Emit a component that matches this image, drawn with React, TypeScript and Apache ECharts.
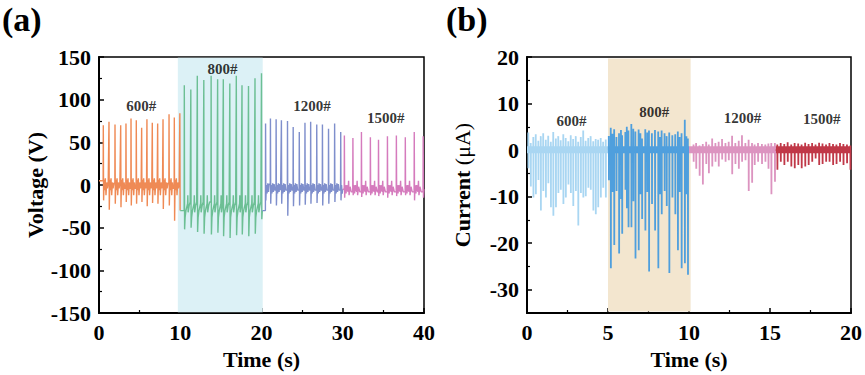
import React, { useEffect, useRef } from "react";
import * as echarts from "echarts";

// ---------- Panel (a): Voltage (V) vs Time (s) ----------
const A_T600 = [0.53, 1.23, 1.97, 2.67, 3.32, 3.94, 4.59, 5.25, 5.9, 6.56, 7.22, 7.88, 8.62, 9.27, 9.95];
const A_P600 = [70, 74, 71, 70, 72, 78, 76, 67, 77, 73, 72, 77, 83, 79, 84];
const A_Q600 = [-18, -29, -22, -26, -20, -24, -22, -20, -25, -21, -22, -28, -24, -42, -30];

const A_T800 = [10.5, 11.3, 12.1, 12.9, 13.8, 14.6, 15.3, 16.1, 16.9, 17.6, 18.4, 19.2, 20.0];
const A_P800 = [117, 112, 128, 123, 128, 124, 124, 119, 128, 117, 116, 125, 131];
const A_Q800 = [-52, -50, -55, -57, -58, -56, -60, -62, -59, -58, -60, -57, -40];

const A_T1200 = [20.5, 21.1, 21.8, 22.45, 23.2, 23.9, 24.65, 25.35, 26.05, 26.8, 27.5, 28.25, 29.0, 29.75];
const A_P1200 = [72, 78, 77, 76, 75, 68, 62, 73, 74, 71, 71, 66, 72, 62];
const A_Q1200 = [-18, -22, -24, -22, -36, -25, -24, -23, -22, -21, -24, -22, -20, -18];

const A_T1500 = [30.2, 31.25, 32.3, 33.4, 34.4, 35.5, 36.6, 37.7, 38.8, 39.9];
const A_P1500 = [58, 55, 62, 56, 53, 57, 58, 56, 62, 57];
const A_Q1500 = [-15, -12, -14, -12, -13, -15, -13, -12, -18, -15];

// pulse templates: [time offset after peak (s), value]
const A_SHAPE600: [number, number][] = [[0.1, 6], [0.17, -6], [0.25, 8], [0.33, -12], [0.42, 3], [0.5, -4], [0.6, 2]];
const A_SHAPE800: [number, number][] = [[0.1, -38], [0.2, -30], [0.32, -25], [0.4, -22], [0.43, -12], [0.47, -32], [0.6, -24], [0.72, -20]];
const A_SHAPE1200: [number, number][] = [[0.1, 0], [0.18, -10], [0.28, 2], [0.36, -8], [0.45, 1], [0.55, -6]];
const A_SHAPE1500: [number, number][] = [[0.1, 0], [0.2, -10], [0.3, 0], [0.45, -8], [0.52, 5], [0.58, -12], [0.7, -2], [0.85, -8]];

// ---------- Panel (b): Current (μA) vs Time (s) ----------
const B_T600 = [0.08, 0.23, 0.39, 0.54, 0.7, 0.85, 1.0, 1.16, 1.31, 1.47, 1.62, 1.78, 1.93, 2.08, 2.24, 2.39, 2.55, 2.7, 2.85, 3.01, 3.16, 3.32, 3.47, 3.62, 3.78, 3.93, 4.09, 4.24, 4.39, 4.55, 4.7, 4.86];
const B_N600 = [-3.9, -7.8, -10.2, -9.5, -6.4, -13.0, -8.8, -10.2, -7.1, -12.3, -14.1, -12.3, -9.2, -8.5, -11.6, -10.2, -7.4, -9.2, -12.0, -8.8, -16.2, -9.2, -10.2, -9.9, -8.1, -8.5, -13.0, -13.8, -12.3, -10.2, -8.1, -10.2];
const B_P600 = [3.8, 1.5, 2.8, 3.4, 2.0, 3.0, 3.6, 2.2, 3.1, 1.8, 3.9, 2.5, 3.0, 2.1, 3.4, 2.6, 1.9, 3.2, 2.4, 3.0, 1.8, 2.8, 4.2, 2.0, 2.6, 3.0, 1.9, 2.4, 2.2, 2.6, 1.8, 2.3];

const B_T800 = [5.05, 5.17, 5.28, 5.38, 5.52, 5.68, 5.8, 5.87, 6.07, 6.16, 6.26, 6.44, 6.56, 6.69, 6.89, 7.0, 7.1, 7.3, 7.42, 7.53, 7.71, 7.9, 8.1, 8.2, 8.31, 8.49, 8.62, 8.78, 8.97, 9.15, 9.31, 9.42, 9.54, 9.74, 9.84, 9.93];
const B_N800 = [-6.5, -25.4, -9.0, -20.4, -8.8, -22.2, -10.5, -18.0, -8.5, -12.5, -16.6, -16.6, -11.0, -23.3, -21.5, -9.5, -14.8, -17.3, -9.0, -26.1, -11.6, -17.3, -25.4, -9.5, -13.8, -8.8, -12.0, -26.4, -10.2, -13.8, -21.5, -9.0, -25.4, -24.3, -9.5, -26.8];
const B_P800 = [3.0, 4.8, 3.5, 4.5, 2.8, 3.6, 4.3, 3.2, 3.9, 5.0, 4.2, 5.6, 4.6, 4.0, 4.4, 3.6, 2.5, 4.5, 3.8, 4.2, 3.6, 4.3, 4.0, 2.8, 4.2, 3.6, 3.0, 3.8, 3.2, 3.4, 4.0, 2.8, 3.6, 6.5, 3.0, 2.5];

const B_T1200 = [10.28, 10.44, 10.65, 10.85, 11.06, 11.22, 11.43, 11.63, 11.83, 12.04, 12.25, 12.45, 12.66, 12.86, 13.07, 13.27, 13.48, 13.68, 13.89, 14.05, 14.26, 14.5, 14.71, 14.9, 15.08, 15.3];
const B_N1200 = [-2.5, -4.0, -5.5, -7.4, -3.0, -5.0, -3.5, -2.5, -3.5, -2.0, -2.5, -2.2, -5.2, -3.0, -4.0, -2.5, -2.2, -8.8, -7.0, -3.2, -2.5, -3.0, -2.5, -4.0, -9.5, -6.8];
const B_P1200 = [1.2, 1.5, 1.0, 1.3, 1.8, 1.2, 2.5, 1.5, 1.8, 2.4, 1.5, 1.8, 3.1, 1.5, 2.0, 3.2, 1.5, 2.2, 1.5, 1.2, 1.5, 1.3, 1.2, 1.4, 1.5, 1.5];

const B_T1500 = [15.45, 15.66, 15.88, 16.09, 16.31, 16.52, 16.74, 16.95, 17.17, 17.38, 17.6, 17.81, 18.03, 18.24, 18.46, 18.67, 18.89, 19.1, 19.32, 19.53, 19.75, 19.96];
const B_N1500 = [-4.2, -2.5, -3.2, -2.5, -3.5, -3.9, -3.2, -3.9, -3.5, -3.2, -2.5, -1.8, -3.2, -3.0, -2.5, -2.5, -3.2, -3.0, -2.5, -3.2, -2.8, -4.2];
const B_P1500 = [1.2, 1.5, 1.3, 1.7, 1.2, 1.5, 1.4, 1.2, 1.6, 1.3, 1.5, 1.2, 1.6, 1.4, 1.2, 1.5, 1.3, 1.2, 1.5, 1.3, 1.2, 1.0];

const LABELS_A = [
  { name: "600#", value: [5.2, 92] },
  { name: "800#", value: [15.2, 136] },
  { name: "1200#", value: [26.2, 92] },
  { name: "1500#", value: [35.3, 78] },
];
const LABELS_B = [
  { name: "600#", value: [2.75, 6.3] },
  { name: "800#", value: [7.85, 8.1] },
  { name: "1200#", value: [13.3, 7.0] },
  { name: "1500#", value: [18.2, 6.6] },
];

const FONT = "'Liberation Serif', 'Times New Roman', serif";

function trainA(
  times: number[], peaks: number[], troughs: number[], shape: [number, number][],
  start: [number, number], end: [number, number]
): [number, number][] {
  const pts: [number, number][] = [start];
  for (let i = 0; i < times.length; i++) {
    const t = times[i];
    const next = i + 1 < times.length ? times[i + 1] : end[0];
    pts.push([t - 0.02, pts[pts.length - 1][1]]);
    pts.push([t, peaks[i]]);
    pts.push([t + 0.035, troughs[i]]);
    for (const [dt, v] of shape) {
      if (t + dt < next - 0.05) pts.push([t + dt, v]);
    }
  }
  pts.push(end);
  return pts;
}

function trainB(times: number[], neg: number[], pos: number[], start: number, end: number): [number, number][] {
  const pts: [number, number][] = [[start, 0]];
  for (let i = 0; i < times.length; i++) {
    const t = times[i];
    pts.push([t - 0.004, 0], [t, pos[i]], [t + 0.008, neg[i]], [t + 0.012, 0]);
  }
  pts.push([end, 0]);
  return pts;
}

export default function App() {
  const ref = useRef<HTMLDivElement>(null);
  useEffect(() => {
    if (!ref.current) return;
    const chart = echarts.init(ref.current, undefined, { renderer: "svg" });

    const axisCommon = {
      axisLine: { show: true, onZero: false, lineStyle: { color: "#000", width: 2 } },
      axisTick: { show: true, inside: true, length: 5, lineStyle: { color: "#000", width: 1.5 } },
      minorTick: { show: true, splitNumber: 2, length: 3, lineStyle: { color: "#000", width: 1.2 } },
      splitLine: { show: false },
      axisLabel: { color: "#000", fontFamily: FONT, fontWeight: "bold", fontSize: 22, margin: 8 },
      nameTextStyle: { color: "#000", fontFamily: FONT, fontWeight: "bold", fontSize: 22 },
    };

    const lineA = (data: [number, number][], color: string) => ({
      type: "line", xAxisIndex: 0, yAxisIndex: 0, data, showSymbol: false, symbol: "none",
      lineStyle: { color, width: 1.4 }, z: 3, silent: true,
    });
    const lineB = (data: [number, number][], color: string, s: number, e: number) => ({
      type: "line", xAxisIndex: 1, yAxisIndex: 1, data, showSymbol: false, symbol: "none",
      lineStyle: { color, width: 1.8 }, z: 3, silent: true,
      markArea: {
        silent: true,
        itemStyle: { color },
        data: [[{ xAxis: s, yAxis: -0.7 }, { xAxis: e, yAxis: 0.8 }]],
      },
    });

    const labelSeries = (data: any[], xi: number, yi: number) => ({
      type: "scatter", xAxisIndex: xi, yAxisIndex: yi, data, symbolSize: 0, z: 5, silent: true,
      label: {
        show: true, position: "inside", formatter: "{b}", color: "#000",
        fontFamily: FONT, fontWeight: "bold", fontSize: 15,
      },
    });

    chart.setOption({
      animation: false,
      backgroundColor: "#fff",
      grid: [
        { left: 99, top: 57, width: 325, height: 262, show: true, borderColor: "#000", borderWidth: 1.5, backgroundColor: "transparent" },
        { left: 527, top: 57, width: 325, height: 260, show: true, borderColor: "#000", borderWidth: 1.5, backgroundColor: "transparent" },
      ],
      xAxis: [
        { ...axisCommon, type: "value", gridIndex: 0, min: 0, max: 40, interval: 10,
          name: "Time (s)", nameLocation: "middle", nameGap: 35 },
        { ...axisCommon, type: "value", gridIndex: 1, min: 0, max: 20, interval: 5,
          name: "Time (s)", nameLocation: "middle", nameGap: 35 },
      ],
      yAxis: [
        { ...axisCommon, type: "value", gridIndex: 0, min: -150, max: 150, interval: 50,
          name: "Voltage (V)", nameLocation: "middle", nameGap: 43 },
        { ...axisCommon, type: "value", gridIndex: 1, min: -35, max: 20,
          axisTick: { ...axisCommon.axisTick, customValues: [-30, -20, -10, 0, 10, 20] },
          axisLabel: { ...axisCommon.axisLabel, customValues: [-30, -20, -10, 0, 10, 20] },
          minorTick: { show: false },
          name: "{b|Current} {r|(μA)}", nameLocation: "middle", nameGap: 54,
          nameTextStyle: {
            ...axisCommon.nameTextStyle,
            rich: {
              b: { fontFamily: FONT, fontWeight: "bold", fontSize: 22, color: "#000" },
              r: { fontFamily: FONT, fontWeight: "normal", fontSize: 22, color: "#000" },
            },
          } },
        { type: "value", gridIndex: 1, min: -35, max: 20, position: "left",
          axisLine: { show: false }, axisLabel: { show: false }, splitLine: { show: false },
          axisTick: { show: true, inside: true, length: 3, lineStyle: { color: "#000", width: 1.2 },
            customValues: [-25, -15, -5, 5, 15] } },
      ],
      graphic: [
        { type: "text", left: 2, top: 2, style: { text: "(a)", font: `bold 34px ${FONT}`, fill: "#000" } },
        { type: "text", left: 446, top: 2, style: { text: "(b)", font: `bold 34px ${FONT}`, fill: "#000" } },
      ],
      series: [
        { type: "line", xAxisIndex: 0, yAxisIndex: 0, data: [], z: 1, silent: true,
          markArea: { silent: true, itemStyle: { color: "#dcf1f6" },
            data: [[{ xAxis: 9.7, yAxis: -149 }, { xAxis: 20.15, yAxis: 149 }]] } },
        { type: "line", xAxisIndex: 1, yAxisIndex: 1, data: [], z: 1, silent: true,
          markArea: { silent: true, itemStyle: { color: "#f3e6cf" },
            data: [[{ xAxis: 5.0, yAxis: -34.7 }, { xAxis: 10.1, yAxis: 19.7 }]] } },

        lineA(trainA(A_T600, A_P600, A_Q600, A_SHAPE600, [0, 5], [10.0, -30]), "#ef8a55"),
        lineA(trainA(A_T800, A_P800, A_Q800, A_SHAPE800, [10.0, -30], [20.1, -30]), "#6cbf94"),
        lineA(trainA(A_T1200, A_P1200, A_Q1200, A_SHAPE1200, [20.1, -30], [30.0, -5]), "#7f8fcc"),
        lineA(trainA(A_T1500, A_P1500, A_Q1500, A_SHAPE1500, [30.0, -5], [40.0, -5]), "#d57bbd"),

        lineB(trainB(B_T600, B_N600, B_P600, 0, 5.0), "#a9d6f2", 0, 5.0),
        lineB(trainB(B_T800, B_N800, B_P800, 5.0, 10.0), "#4f9fdd", 5.0, 10.0),
        lineB(trainB(B_T1200, B_N1200, B_P1200, 10.0, 15.35), "#dc94c0", 10.0, 15.35),
        lineB(trainB(B_T1500, B_N1500, B_P1500, 15.35, 20.0), "#c03848", 15.35, 20.0),

        labelSeries(LABELS_A, 0, 0),
        labelSeries(LABELS_B, 1, 1),
      ],
    });
    return () => chart.dispose();
  }, []);
  return <div ref={ref} style={{ width: 865, height: 375, position: "absolute", left: 0, top: 0 }} />;
}
